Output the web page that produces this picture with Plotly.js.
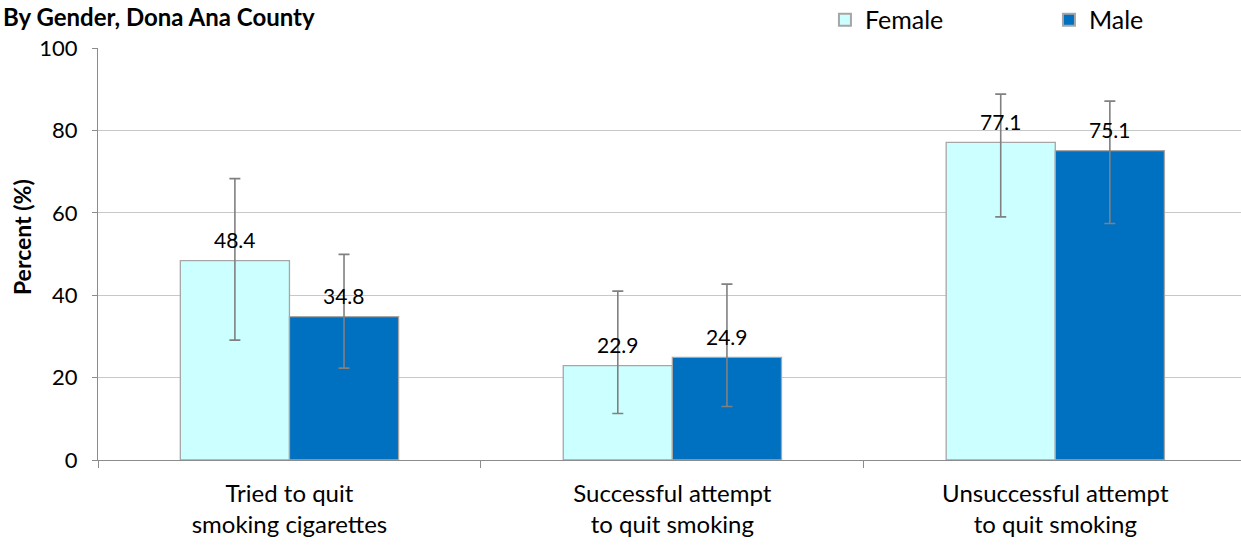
<!DOCTYPE html>
<html>
<head>
<meta charset="utf-8">
<script src="https://cdn.plot.ly/plotly-3.0.1.min.js"></script>
<style>html,body{margin:0;padding:0;background:#fff;overflow:hidden}#chart{width:1241px;height:548px}</style>
</head>
<body>
<div id="chart"></div>
<script>
const categories = ["Tried to quit<br>smoking cigarettes", "Successful attempt<br>to quit smoking", "Unsuccessful attempt<br>to quit smoking"];
const femaleValues = [48.4, 22.9, 77.1];
const femaleUpper = [68.3, 41.0, 88.8];
const femaleLower = [29.1, 11.3, 59.0];
const maleValues = [34.8, 24.9, 75.1];
const maleUpper = [49.9, 42.7, 87.1];
const maleLower = [22.3, 13.0, 57.4];
const seriesNames = ["Female", "Male"];
const yTicks = [0, 20, 40, 60, 80, 100];

const FONT = "Lato, 'Open Sans', sans-serif";

function errs(vals, up, lo) {
  return {
    type: 'data', symmetric: false,
    array: vals.map((v, i) => +(up[i] - v).toFixed(2)),
    arrayminus: vals.map((v, i) => +(v - lo[i]).toFixed(2)),
    color: '#808080', thickness: 1.6, width: 5.5
  };
}

const traces = [
  {
    type: 'bar', name: seriesNames[0], x: categories, y: femaleValues,
    marker: {color: '#ccffff', line: {color: '#a6a6a6', width: 1.3}},
    error_y: errs(femaleValues, femaleUpper, femaleLower),
    hoverinfo: 'none'
  },
  {
    type: 'bar', name: seriesNames[1], x: categories, y: maleValues,
    marker: {color: '#0070c0', line: {color: '#a6a6a6', width: 1.3}},
    error_y: errs(maleValues, maleUpper, maleLower),
    hoverinfo: 'none'
  }
];

const annotations = [];
[femaleValues, maleValues].forEach((vals, s) => {
  vals.forEach((v, i) => {
    annotations.push({
      x: categories[i], y: v, xref: 'x', yref: 'y',
      text: v.toFixed(1), showarrow: false,
      xshift: s === 0 ? -54.5 : 54.5, yshift: 21,
      font: {family: FONT, size: 21, color: '#000'}
    });
  });
});
annotations.push({
  xref: 'paper', yref: 'paper', x: -0.0848, y: 1.1165, xanchor: 'left', yanchor: 'top',
  text: '<b>By Gender, Dona Ana County</b>', showarrow: false,
  font: {family: FONT, size: 24, color: '#000'}
});
annotations.push({
  xref: 'paper', yref: 'paper', x: -0.0665, y: 0.541, xanchor: 'center', yanchor: 'middle',
  text: '<b>Percent (%)</b>', textangle: -90, showarrow: false,
  font: {family: FONT, size: 23, color: '#000'}
});

const layout = {
  width: 1241, height: 548,
  margin: {l: 98, r: 0, t: 48, b: 88, pad: 0, autoexpand: false},
  paper_bgcolor: '#fff', plot_bgcolor: '#fff',
  barmode: 'group', bargap: 0.43, bargroupgap: 0,
  font: {family: FONT, color: '#000'},
  showlegend: true,
  legend: {
    orientation: 'h', x: 0.636, y: 1.068, xanchor: 'left', yanchor: 'middle',
    font: {family: FONT, size: 25, color: '#000'},
    entrywidth: 179, entrywidthmode: 'pixels',
    bgcolor: 'rgba(0,0,0,0)', itemsizing: 'constant', traceorder: 'normal'
  },
  xaxis: {
    type: 'category', range: [-0.5, 2.485],
    showline: true, linecolor: '#8c8c8c', linewidth: 1,
    ticks: 'outside', tickson: 'boundaries', ticklen: 7, tickcolor: '#8c8c8c',
    ticklabelstandoff: 12,
    tickfont: {family: FONT, size: 24, color: '#000'},
    showgrid: false, zeroline: false
  },
  yaxis: {
    range: [0, 100], tickvals: yTicks,
    showline: true, linecolor: '#8c8c8c', linewidth: 1,
    ticks: 'outside', ticklen: 5, tickcolor: '#8c8c8c',
    ticklabelstandoff: 10,
    tickfont: {family: FONT, size: 22, color: '#000'},
    showgrid: true, gridcolor: '#c8c8c8', gridwidth: 1.3,
    zeroline: false
  },
  annotations: annotations
};

Plotly.newPlot('chart', traces, layout, {staticPlot: true, displayModeBar: false});
</script>
</body>
</html>
